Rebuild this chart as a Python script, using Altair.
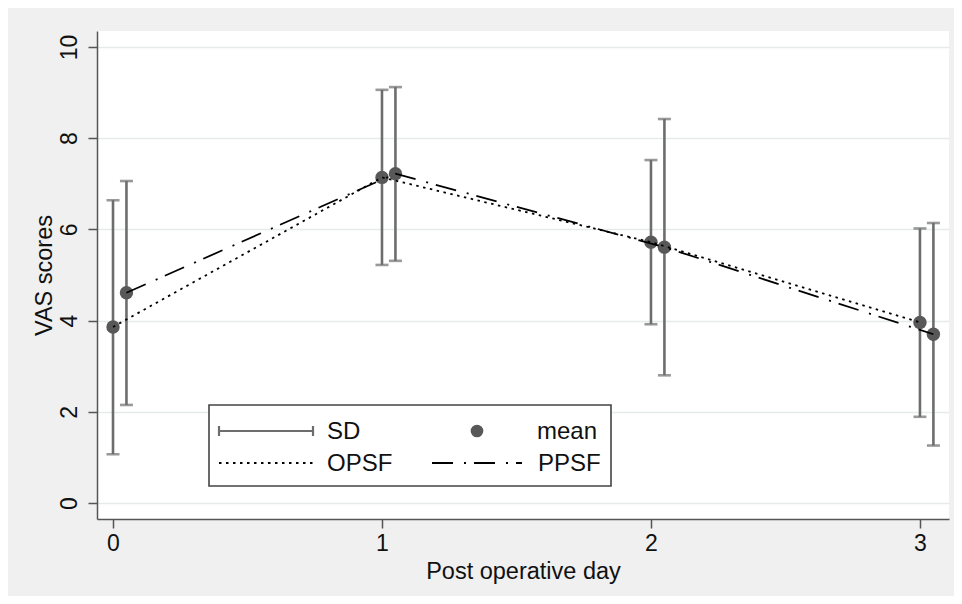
import altair as alt
import pandas as pd

# ---- data ----
days = [0, 1, 2, 3]
opsf_mean = [3.86, 7.14, 5.72, 3.96]
opsf_low = [1.07, 5.22, 3.92, 1.89]
opsf_high = [6.64, 9.06, 7.52, 6.02]
ppsf_mean = [4.61, 7.22, 5.61, 3.70]
ppsf_low = [2.15, 5.31, 2.80, 1.26]
ppsf_high = [7.06, 9.12, 8.42, 6.14]
ppsf_offset = 0.05

x_ticks = [0, 1, 2, 3]
y_ticks = [0, 2, 4, 6, 8, 10]

rows = []
for i, d in enumerate(days):
    rows.append(dict(group="OPSF", x=d, mean=opsf_mean[i], low=opsf_low[i], high=opsf_high[i]))
    rows.append(dict(group="PPSF", x=d + ppsf_offset, mean=ppsf_mean[i], low=ppsf_low[i], high=ppsf_high[i]))
df = pd.DataFrame(rows)
caps = pd.concat([
    df[["x", "low"]].rename(columns={"low": "v"}),
    df[["x", "high"]].rename(columns={"high": "v"}),
])

FONT = "Liberation Sans"
BAR = "#6d6d6d"
PT = "#585858"

xs = alt.Scale(domain=[-0.0595, 3.108], nice=False, zero=False)
ys = alt.Scale(domain=[-0.351, 10.35], nice=False, zero=False)

x_axis = alt.Axis(values=x_ticks, format="d", title="Post operative day", grid=False,
                  tickSize=9, labelPadding=4, titlePadding=4)
y_axis = alt.Axis(values=y_ticks, format="d", title="VAS scores", grid=True,
                  tickSize=9, labelPadding=7, titlePadding=2,
                  labelAngle=270, labelAlign="center", labelBaseline="bottom")

base = alt.Chart(df)

bars = base.mark_rule(color=BAR, strokeWidth=2.6).encode(
    x=alt.X("x:Q", scale=xs, axis=x_axis),
    y=alt.Y("low:Q", scale=ys, axis=y_axis),
    y2="high:Q",
)
cap_marks = alt.Chart(caps).mark_tick(color=BAR, orient="horizontal", size=13, thickness=2.6).encode(
    x=alt.X("x:Q", scale=xs), y=alt.Y("v:Q", scale=ys)
)
points = base.mark_point(filled=True, size=180, color=PT, opacity=1).encode(
    x=alt.X("x:Q", scale=xs), y=alt.Y("mean:Q", scale=ys)
)
line_o = base.transform_filter(alt.datum.group == "OPSF").mark_line(
    color="black", strokeWidth=1.8, strokeDash=[2.5, 4.5]
).encode(x=alt.X("x:Q", scale=xs), y=alt.Y("mean:Q", scale=ys))
line_p = base.transform_filter(alt.datum.group == "PPSF").mark_line(
    color="black", strokeWidth=1.8, strokeDash=[21, 11, 2, 8]
).encode(x=alt.X("x:Q", scale=xs), y=alt.Y("mean:Q", scale=ys))

# ---- legend (drawn as decoration in pixel space) ----
one = alt.Chart(pd.DataFrame({"k": [0]}))
leg_box = one.mark_rect(fill="white", stroke="#444444", strokeWidth=1.6).encode(
    x=alt.value(112), x2=alt.value(514), y=alt.value(374), y2=alt.value(455))
sd_line = one.mark_rule(color=BAR, strokeWidth=2.2).encode(
    x=alt.value(122), x2=alt.value(216), y=alt.value(400))
sd_cap1 = one.mark_rule(color=BAR, strokeWidth=2.2).encode(
    x=alt.value(122), y=alt.value(395), y2=alt.value(405))
sd_cap2 = one.mark_rule(color=BAR, strokeWidth=2.2).encode(
    x=alt.value(216), y=alt.value(395), y2=alt.value(405))
mean_pt = one.mark_point(filled=True, size=160, color=PT, opacity=1).encode(
    x=alt.value(380), y=alt.value(400))
o_line = one.mark_rule(color="black", strokeWidth=1.8, strokeDash=[2.5, 4.5]).encode(
    x=alt.value(122), x2=alt.value(216), y=alt.value(432))
p_line = one.mark_rule(color="black", strokeWidth=1.8, strokeDash=[21, 11, 2, 8]).encode(
    x=alt.value(335), x2=alt.value(425), y=alt.value(432))

def label(txt, x, y):
    return one.mark_text(text=txt, align="left", baseline="middle", font=FONT,
                         fontSize=24, color="#111111").encode(x=alt.value(x), y=alt.value(y))

legend = [leg_box, sd_line, sd_cap1, sd_cap2, mean_pt, o_line, p_line,
          label("SD", 230, 401), label("mean", 440, 401),
          label("OPSF", 230, 433), label("PPSF", 441, 433)]

chart = alt.layer(bars, cap_marks, points, line_o, line_p, *legend).properties(
    width=852, height=488,
    autosize=alt.AutoSizeParams(type="none"),
    padding={"left": 89, "top": 23, "right": 5, "bottom": 77},
    background="#eff0ef",
).configure_view(fill="white", stroke=None).configure_axis(
    labelFont=FONT, titleFont=FONT, labelFontSize=23, titleFontSize=23.5,
    titleFontWeight="normal", labelColor="#111111", titleColor="#111111",
    domainColor="#555555", tickColor="#555555", domainWidth=1.5, tickWidth=1.5,
    gridColor="#e7eaea", gridWidth=1.5,
)

chart.save("out.html", embed_options={"renderer": "svg", "actions": False})
